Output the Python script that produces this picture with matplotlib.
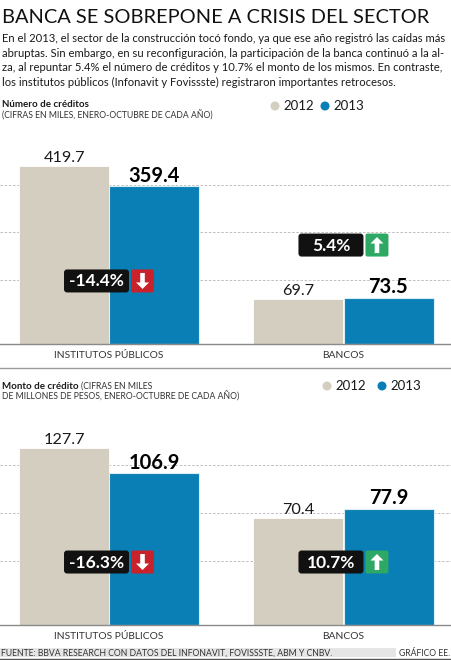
import matplotlib
matplotlib.use("Agg")
import matplotlib.pyplot as plt
import matplotlib.transforms as mtrans
from matplotlib.patches import FancyBboxPatch, Rectangle, Circle, Polygon
from matplotlib.lines import Line2D
import numpy as np

#---------------- datos ----------------
categorias = ["INSTITUTOS PÚBLICOS", "BANCOS"]
anios = ["2012", "2013"]
creditos_2012 = [419.7, 69.7]
creditos_2013 = [359.4, 73.5]
monto_2012 = [127.7, 70.4]
monto_2013 = [106.9, 77.9]
cambio_creditos = ["-14.4%", "5.4%"]
cambio_monto = ["-16.3%", "10.7%"]

titulo = "BANCA SE SOBREPONE A CRISIS DEL SECTOR"
parrafo = [
    "En el 2013, el sector de la construcción tocó fondo, ya que ese año registró las caídas más",
    "abruptas. Sin embargo, en su reconfiguración, la participación de la banca continuó a la al-",
    "za, al repuntar 5.4% el número de créditos y 10.7% el monto de los mismos. En contraste,",
    "los institutos públicos (Infonavit y Fovissste) registraron importantes retrocesos.",
]
fuente = "FUENTE: BBVA RESEARCH CON DATOS DEL INFONAVIT, FOVISSSTE, ABM Y CNBV."
credito = "GRÁFICO EE."

#---------------- estilo ----------------
W, H = 452, 660
GRIS = "#d4cec0"
AZUL = "#0a7fb5"
NEGRO = "#111111"
ROJO = "#c9222b"
VERDE = "#2ea865"
TXT = "#1a1a1a"
plt.rcParams['font.family'] = ['Lato', 'DejaVu Sans']

fig = plt.figure(figsize=(W / 100, H / 100), dpi=100)
fig.patch.set_facecolor("white")
r = fig.canvas.get_renderer()


def fx(px):
    return px / W


def fy(px):
    return 1 - px / H


def ajustar(t, ancho):
    # encoge/agranda el texto hasta el ancho en pixeles
    w = t.get_window_extent(renderer=r).width
    t.set_fontsize(t.get_fontsize() * ancho / w)


def badge(ax, x, yfrac, texto, sube):
    # etiqueta negra + cuadro de color con flecha, en pixeles alrededor del punto
    base = mtrans.blended_transform_factory(ax.transData, ax.transAxes)
    t = mtrans.Affine2D() + mtrans.ScaledTranslation(x, yfrac, base)
    ax.add_patch(FancyBboxPatch((-45, -11.5), 65, 23, boxstyle="round,pad=0,rounding_size=3",
                                fc=NEGRO, ec="none", transform=t, clip_on=False, zorder=5))
    ax.add_patch(FancyBboxPatch((22, -11.5), 23, 23, boxstyle="round,pad=0,rounding_size=2",
                                fc=VERDE if sube else ROJO, ec="none", transform=t,
                                clip_on=False, zorder=5))
    s = 1 if sube else -1
    pts = [(0, 8), (6.5, 1.5), (2.3, 1.5), (2.3, -8), (-2.3, -8), (-2.3, 1.5), (-6.5, 1.5)]
    pts = [(33.5 + px_, s * py_) for px_, py_ in pts]
    ax.add_patch(Polygon(pts, closed=True, fc="white", ec="none", transform=t,
                         clip_on=False, zorder=6))
    ax.text(-12.5, -0.5, texto, color="white", fontsize=12.5, fontweight="bold",
            ha="center", va="center", transform=t, zorder=6)


def panel(bottom_px, top_px, v12, v13, cambios, ypos, p):
    ax = fig.add_axes([0, fy(bottom_px), 1, (bottom_px - top_px) / H])
    fwd = lambda y: np.power(np.clip(y, 0, None), p)
    inv = lambda y: np.power(np.clip(y, 0, None), 1 / p)
    ax.set_yscale("function", functions=(fwd, inv))
    x = np.arange(len(categorias))
    w = 0.383
    ax.bar(x - w / 2 - 0.002, v12, w, color=GRIS, ec="white", lw=0.6, zorder=2)
    ax.bar(x + w / 2 + 0.002, v13, w, color=AZUL, ec="#d9eef7", lw=0.8, zorder=2)
    for i in range(len(x)):
        ax.annotate(f"{v12[i]:.1f}", (x[i] - w / 2, v12[i]), xytext=(0, 3),
                    textcoords="offset points", ha="center", va="baseline",
                    fontsize=11.7, color=TXT)
        ax.annotate(f"{v13[i]:.1f}", (x[i] + w / 2, v13[i]), xytext=(0, 3),
                    textcoords="offset points", ha="center", va="baseline",
                    fontsize=14.5, fontweight="bold", color="black")
        ax.text(x[i], -0.06, categorias[i], transform=ax.get_xaxis_transform(),
                ha="center", va="center", fontsize=7.4, color="#333333")
        badge(ax, x[i], ypos[i], cambios[i], not cambios[i].startswith("-"))
    for g in [0.33, 0.575, 0.82]:
        ax.plot([0, 1], [g, g], transform=ax.transAxes, color="#b5b5b5", lw=0.6,
                ls=(0, (3, 2)), zorder=1)
    ax.set_xlim(-0.465, 1.463)
    ax.set_ylim(0, max(v12 + v13) * 1.12)
    for sp in ["top", "left", "right"]:
        ax.spines[sp].set_visible(False)
    ax.spines["bottom"].set_color("#8a8a8a")
    ax.spines["bottom"].set_linewidth(1)
    ax.set_xticks([])
    ax.set_yticks([])
    ax.minorticks_off()
    ax.patch.set_alpha(0)
    return ax


def leyenda(x1, x2, ypx):
    for xc, c, lab in [(x1, GRIS, anios[0]), (x2, AZUL, anios[1])]:
        fig.patches.append(Circle((xc, H - ypx), 4.5, fc=c, ec="none",
                                  transform=mtrans.IdentityTransform()))
        fig.text(fx(xc + 8), fy(ypx + 4.5), lab, fontsize=9.5, color=TXT, va="baseline")


#---------------- cabecera ----------------
tt = fig.text(fx(2), fy(23), titulo, fontsize=18, color="#111111", va="baseline")
ajustar(tt, 424)
lineas = [fig.text(fx(2), fy(42 + i * 14.6), linea, fontsize=7.8, color=TXT, va="baseline")
          for i, linea in enumerate(parrafo)]
w2 = lineas[1].get_window_extent(renderer=r).width
for t in lineas:
    t.set_fontsize(7.8 * 449 / w2)

fig.text(fx(2), fy(107), "Número de créditos", fontsize=7, fontweight="bold",
         color=TXT, va="baseline")
fig.text(fx(2), fy(119), "(CIFRAS EN MILES, ENERO-OCTUBRE DE CADA AÑO)", fontsize=6.2,
         color="#333333", va="baseline")
leyenda(275, 325, 106)

panel(344, 150, creditos_2012, creditos_2013, cambio_creditos, [0.325, 0.51], 0.77)
fig.add_artist(Line2D([0, 1], [fy(368), fy(368)], color="#9a9a9a", lw=1))

#---------------- segundo panel ----------------
t1 = fig.text(fx(2), fy(389), "Monto de crédito", fontsize=7, fontweight="bold",
              color=TXT, va="baseline")
bb = t1.get_window_extent(renderer=r)
fig.text(bb.x1 / W + fx(2), fy(389), "(CIFRAS EN MILES", fontsize=6.2,
         color="#333333", va="baseline")
fig.text(fx(2), fy(400), "DE MILLONES DE PESOS, ENERO-OCTUBRE DE CADA AÑO)", fontsize=6.2,
         color="#333333", va="baseline")
leyenda(327, 382, 386)

panel(625, 430, monto_2012, monto_2013, cambio_monto, [0.323, 0.323], 0.85)

#---------------- pie ----------------
fig.patches.append(Rectangle((0, fy(657)), fx(396), (657 - 648) / H, fc="#e6e6e6",
                             ec="none", transform=fig.transFigure))
tf = fig.text(fx(1), fy(655.5), fuente, fontsize=6, color="#333333", va="baseline")
ajustar(tf, 334)
fig.text(fx(450), fy(655.5), credito, fontsize=6.2, color="#333333", va="baseline", ha="right")
fig.add_artist(Line2D([0, 1], [fy(659), fy(659)], color="#555555", lw=1))

fig.savefig("out.png", dpi=100)
